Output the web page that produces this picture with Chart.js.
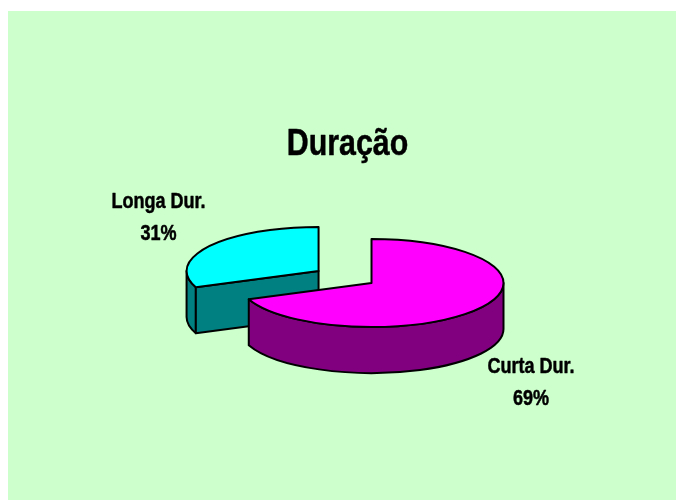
<!DOCTYPE html>
<html>
<head>
<meta charset="utf-8">
<title>Duração</title>
<script src="https://cdn.jsdelivr.net/npm/chart.js@4"></script>
<style>
html, body { margin: 0; background: #fff; }
#panel { position: absolute; left: 8px; top: 11px; width: 668px; height: 489px; background: #CCFFCC; }
#myChart { position: absolute; left: 0; top: 0; }
</style>
</head>
<body>
<div id="panel"></div>
<canvas id="myChart" width="676" height="500"></canvas>
<script>
const categories = ['Curta Dur.', 'Longa Dur.'];
const values = [69, 31];
const titleText = 'Duração';

const topColors = ['#FF00FF', '#00FFFF'];
const sideColors = ['#800080', '#008080'];
const explode = [0, 64];       // how far each slice is pulled out
const squash = 1 / 3;          // tilt of the pie
const depth = 46;              // height of the wall
const fontName = '"Liberation Sans", sans-serif';
const narrow = 0.82;           // no narrow font here, so text is squeezed sideways
const titleSpot = {x: 347.5, y: 155};
const labelSpots = [{x: 531, y: 373}, {x: 158.5, y: 207.5}];  // baseline of first text line
const labelGap = 32;

const canvas = document.getElementById('myChart');
const ctx = canvas.getContext('2d');

// fills and strokes the current path
function paint(c, color) {
    c.fillStyle = color;
    c.fill();
    c.stroke();
}

function narrowText(c, text, x, y) {
    c.save();
    c.translate(x, y);
    c.scale(narrow, 1);
    c.lineWidth = 0.5;   // reference text is a little heavier
    c.fillText(text, 0, 0);
    c.strokeText(text, 0, 0);
    c.restore();
}

function drawWall(c, x, y, r, a0, a1, color) {
    // curved outer wall, only the half that faces us
    const s = Math.max(a0, 0);
    const e = Math.min(a1, Math.PI);
    if (s < e) {
        c.beginPath();
        c.ellipse(x, y, r, r * squash, 0, s, e);
        c.ellipse(x, y + depth, r, r * squash, 0, e, s, true);
        c.closePath();
        paint(c, color);
    }
    // flat cut faces of the slice
    const cuts = [[a0, a0 - Math.PI / 2], [a1, a1 + Math.PI / 2]];
    cuts.forEach(function (cut) {
        if (Math.sin(cut[1]) > 0.01) {
            const px = x + r * Math.cos(cut[0]);
            const py = y + r * squash * Math.sin(cut[0]);
            c.beginPath();
            c.moveTo(x, y);
            c.lineTo(px, py);
            c.lineTo(px, py + depth);
            c.lineTo(x, y + depth);
            c.closePath();
            paint(c, color);
        }
    });
}

// Chart.js works out the angles and the centre, this turns each arc into a tilted 3d slice
const pie3d = {
    id: 'pie3d',
    beforeDatasetsDraw(chart) {
        const c = chart.ctx;
        const arcs = chart.getDatasetMeta(0).data;
        c.save();
        c.strokeStyle = '#000';
        c.lineWidth = 2;
        c.lineJoin = 'round';
        // back slice first, the front one covers its wall
        for (let i = arcs.length - 1; i >= 0; i--) {
            const arc = arcs[i];
            const mid = (arc.startAngle + arc.endAngle) / 2;
            const x = arc.x + Math.cos(mid) * arc.options.offset;
            const y = arc.y + Math.sin(mid) * arc.options.offset * squash;
            const r = arc.outerRadius;
            drawWall(c, x, y, r, arc.startAngle, arc.endAngle, sideColors[i]);
            c.beginPath();
            c.moveTo(x, y);
            c.ellipse(x, y, r, r * squash, 0, arc.startAngle, arc.endAngle);
            c.closePath();
            paint(c, arc.options.backgroundColor);
        }
        c.fillStyle = '#000';
        c.textAlign = 'center';
        c.textBaseline = 'alphabetic';
        c.font = 'bold 37px ' + fontName;
        narrowText(c, titleText, titleSpot.x, titleSpot.y);
        c.font = 'bold 22px ' + fontName;
        categories.forEach(function (name, i) {
            narrowText(c, name, labelSpots[i].x, labelSpots[i].y);
            narrowText(c, values[i] + '%', labelSpots[i].x, labelSpots[i].y + labelGap);
        });
        c.restore();
        return false;
    }
};

const myChart = new Chart(ctx, {
    type: 'pie',
    data: {
        labels: categories,
        datasets: [{
            data: values,
            backgroundColor: topColors,
            offset: explode,
            borderWidth: 0
        }]
    },
    options: {
        responsive: false,
        animation: false,
        radius: 132,
        layout: { padding: { left: 67, top: 66 } },
        plugins: {
            legend: { display: false },
            tooltip: { enabled: false }
        }
    },
    plugins: [pie3d]
});
</script>
</body>
</html>
